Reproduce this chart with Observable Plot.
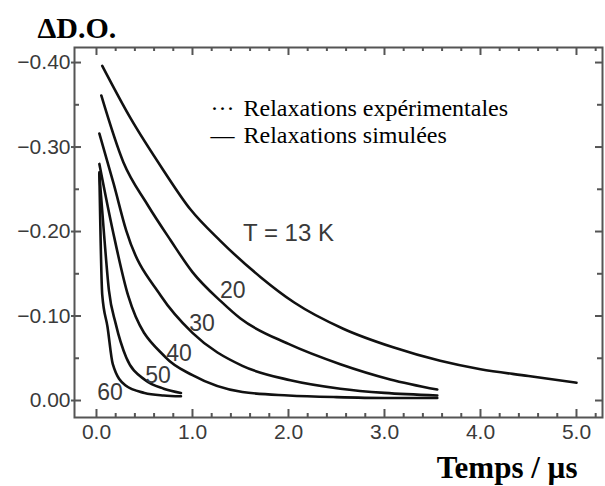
<!DOCTYPE html>
<html><head><meta charset="utf-8">
<script src="https://cdn.jsdelivr.net/npm/d3@7"></script>
<script src="https://cdn.jsdelivr.net/npm/@observablehq/plot@0.6"></script>
<style>body{margin:0;background:#fff}#chart{width:605px;height:486px}</style>
</head><body><div id="chart"></div>
<script>
// Temperature series (time in µs, ΔD.O.)
const temps = ["13", "20", "30", "40", "50", "60"];
const t13 = [0.06, 0.35, 0.70, 0.98, 1.29, 1.71, 2.06, 2.57, 3.09, 3.58, 4.00, 4.50, 5.00];
const v13 = [-0.396, -0.335, -0.272, -0.226, -0.189, -0.146, -0.116, -0.085, -0.063, -0.047, -0.037, -0.029, -0.021];
const t20 = [0.05, 0.28, 0.53, 0.77, 1.00, 1.30, 1.50, 2.00, 2.54, 3.06, 3.55];
const v20 = [-0.361, -0.282, -0.232, -0.190, -0.152, -0.117, -0.097, -0.067, -0.043, -0.025, -0.013];
const t30 = [0.03, 0.18, 0.31, 0.67, 1.00, 1.52, 2.02, 2.54, 3.00, 3.55];
const v30 = [-0.316, -0.256, -0.201, -0.124, -0.080, -0.041, -0.024, -0.014, -0.009, -0.006];
const t40 = [0.03, 0.17, 0.33, 0.72, 1.00, 1.52, 2.00, 2.50, 3.00, 3.55];
const v40 = [-0.280, -0.201, -0.124, -0.051, -0.030, -0.010, -0.006, -0.004, -0.003, -0.003];
const t50 = [0.03, 0.08, 0.13, 0.20, 0.31, 0.51, 0.70, 0.88];
const v50 = [-0.268, -0.195, -0.130, -0.091, -0.051, -0.024, -0.014, -0.009];
const t60 = [0.03, 0.06, 0.115, 0.17, 0.30, 0.50, 0.70, 0.88];
const v60 = [-0.270, -0.125, -0.087, -0.043, -0.018, -0.009, -0.006, -0.005];

// Axis ticks
const xMajor = [0, 1, 2, 3, 4, 5];
const xMinor = [0.2, 0.4, 0.6, 0.8, 1.2, 1.4, 1.6, 1.8, 2.2, 2.4, 2.6, 2.8, 3.2, 3.4, 3.6, 3.8, 4.2, 4.4, 4.6, 4.8, 5.2];
const yMajor = [0, -0.1, -0.2, -0.3, -0.4];
const yMinor = [-0.05, -0.15, -0.25, -0.35];

// Curve annotations
const tempLabels = ["20", "30", "40", "50", "60"];
const labelT = [1.42, 1.10, 0.86, 0.64, 0.14];
const labelV = [-0.130, -0.091, -0.055, -0.030, -0.009];
const headLabel = "T = 13 K";
const headT = 2.0, headV = -0.198;

// Legend, titles
const legendSymbols = ["\u00B7\u00B7\u00B7", "\u2014"];
const legendTexts = ["Relaxations exp\u00E9rimentales", "Relaxations simul\u00E9es"];
const yTitle = "\u0394D.O.";
const xTitle = "Temps / \u00B5s";

const allT = [t13, t20, t30, t40, t50, t60];
const allV = [v13, v20, v30, v40, v50, v60];
const rows = temps.flatMap((T, k) => allT[k].map((t, i) => ({T, t, v: allV[k][i]})));
const labels = tempLabels.map((s, i) => ({s, t: labelT[i], v: labelV[i]}));

const W = 605, H = 486, mL = 74, mR = 3, mT = 47, mB = 69;
const fw = W - mL - mR, fh = H - mT - mB;
const ink = "#3a3a3a";
const axisInk = "#555";
const sans = "Liberation Sans, Arial, sans-serif";
const serif = "Liberation Serif, Times New Roman, serif";
const legendBase = [115, 142];

const legendMarks = legendTexts.flatMap((s, i) => [
  Plot.text([legendSymbols[i]], {frameAnchor: "top-left", dx: 210 - mL, dy: legendBase[i] - mT, text: d => d, textAnchor: "start", lineAnchor: "bottom", fontSize: 24, fontFamily: serif, fill: "#000"}),
  Plot.text([s], {frameAnchor: "top-left", dx: 243 - mL, dy: legendBase[i] - mT, text: d => d, textAnchor: "start", lineAnchor: "bottom", fontSize: 24, fontFamily: serif, fill: "#000"})
]);

const chart = Plot.plot({
  width: W, height: H,
  marginLeft: mL, marginRight: mR, marginTop: mT, marginBottom: mB,
  style: {background: "#fff", fontFamily: sans},
  x: {domain: [-0.229, 5.271]},
  y: {domain: [0.0201, -0.4178]},
  marks: [
    Plot.frame({stroke: axisInk, strokeWidth: 2}),
    Plot.axisX({ticks: xMajor, tickSize: 0, tickPadding: 7, tickFormat: d3.format(".1f"), fontSize: 21, fill: ink, label: null}),
    Plot.axisY({ticks: yMajor, tickSize: 3, tickPadding: 1, tickFormat: d3.format(".2f"), fontSize: 21, fill: ink, stroke: axisInk, strokeWidth: 2, label: null}),
    // inward ticks, bottom & top
    Plot.tickX(xMajor, {x: d => d, insetTop: fh - 8, stroke: axisInk, strokeWidth: 2}),
    Plot.tickX(xMinor, {x: d => d, insetTop: fh - 4, stroke: axisInk, strokeWidth: 2}),
    Plot.tickX(xMajor, {x: d => d, insetBottom: fh - 8, stroke: axisInk, strokeWidth: 2}),
    Plot.tickX(xMinor, {x: d => d, insetBottom: fh - 4, stroke: axisInk, strokeWidth: 2}),
    // inward ticks, left & right
    Plot.tickY(yMajor, {y: d => d, insetRight: fw - 7, stroke: axisInk, strokeWidth: 2}),
    Plot.tickY(yMinor, {y: d => d, insetRight: fw - 5, stroke: axisInk, strokeWidth: 2}),
    Plot.tickY(yMajor, {y: d => d, insetLeft: fw - 7, stroke: axisInk, strokeWidth: 2}),
    Plot.tickY(yMinor, {y: d => d, insetLeft: fw - 5, stroke: axisInk, strokeWidth: 2}),
    // relaxation curves
    Plot.line(rows, {x: "t", y: "v", z: "T", curve: "monotone-x", stroke: "#111", strokeWidth: 2.6}),
    // curve labels
    Plot.text(labels, {x: "t", y: "v", text: "s", fontSize: 23, fill: ink, fontFamily: sans}),
    Plot.text([headLabel], {x: () => headT, y: () => headV, text: d => d, fontSize: 24, fill: ink, fontFamily: sans, style: "letter-spacing:1.5px"}),
    // legend
    ...legendMarks,
    // axis titles
    Plot.text([yTitle], {frameAnchor: "top-left", dx: 37 - mL, dy: 37 - mT, textAnchor: "start", lineAnchor: "bottom", fontSize: 30, fontWeight: "bold", fontFamily: serif, fill: "#000"}),
    Plot.text([xTitle], {frameAnchor: "bottom-right", dx: 577 - (W - mR), dy: 477 - (H - mB), textAnchor: "end", lineAnchor: "bottom", fontSize: 31, fontWeight: "bold", fontFamily: serif, fill: "#000"})
  ]
});
document.getElementById("chart").append(chart);
</script>
</body></html>
